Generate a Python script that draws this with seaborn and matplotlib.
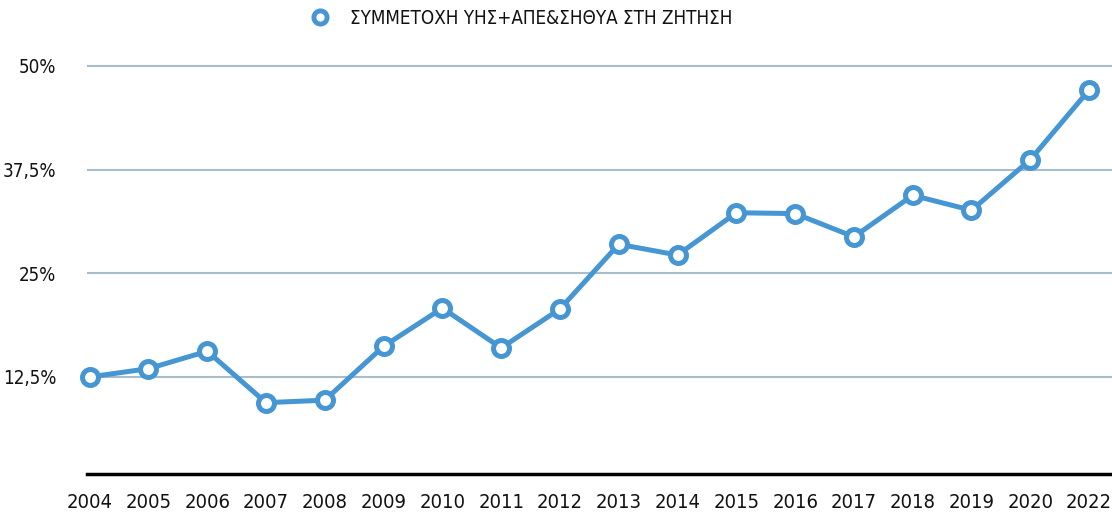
import matplotlib
matplotlib.use("Agg")
import matplotlib.pyplot as plt
from matplotlib.lines import Line2D
import seaborn as sns
import pandas as pd

years = ["2004", "2005", "2006", "2007", "2008", "2009", "2010", "2011", "2012",
         "2013", "2014", "2015", "2016", "2017", "2018", "2019", "2020", "2022"]
share = [12.5, 13.5, 15.6, 9.4, 9.7, 16.2, 20.8, 16.0, 20.7,
         28.5, 27.2, 32.3, 32.2, 29.4, 34.4, 32.6, 38.7, 47.1]
series_name = "ΣΥΜΜΕΤΟΧΗ ΥΗΣ+ΑΠΕ&ΣΗΘΥΑ ΣΤΗ ΖΗΤΗΣΗ"
y_ticks = [12.5, 25, 37.5, 50]
y_tick_labels = ["12,5%", "25%", "37,5%", "50%"]

sns.set_theme(style="white")
plt.rcParams["font.family"] = ["DejaVu Sans"]
plt.rcParams["font.stretch"] = "condensed"

BLUE = "#4596d3"
GRID = "#a9bccb"

df = pd.DataFrame({"year": years, "share": share, "pos": range(len(years))})

fig = plt.figure(figsize=(11.12, 5.17), dpi=100)
ax = fig.add_axes([0.078, 0.0832, 0.922, 0.8213])

sns.lineplot(data=df, x="pos", y="share", ax=ax, color=BLUE, linewidth=3.6,
             marker="o", markersize=11.5, markerfacecolor="white",
             markeredgecolor=BLUE, markeredgewidth=3.6, sort=False, zorder=3,
             clip_on=False)

ax.set_ylim(0.8, 52)
ax.set_xlim(-0.05, len(years) - 1 + 0.39)
ax.set_yticks(y_ticks)
ax.set_yticklabels(y_tick_labels)
ax.set_xticks(range(len(years)))
ax.set_xticklabels(years)
ax.grid(axis="y", color=GRID, linewidth=1.5)
ax.grid(axis="x", visible=False)
for s in ["top", "right", "left"]:
    ax.spines[s].set_visible(False)
ax.spines["bottom"].set_color("black")
ax.spines["bottom"].set_linewidth(2.5)
ax.tick_params(axis="y", length=0, pad=22, labelsize=13.5, labelcolor="#111111")
ax.tick_params(axis="x", length=0, pad=14, labelsize=14.5, labelcolor="#111111")
ax.set_xlabel("")
ax.set_ylabel("")
if ax.get_legend():
    ax.get_legend().remove()

handle = Line2D([], [], linestyle="none", marker="o", markersize=9.5,
                markerfacecolor="white", markeredgecolor=BLUE, markeredgewidth=3.5)
fig.legend([handle], [series_name], loc="center", bbox_to_anchor=(0.465, 0.965),
           frameon=False, fontsize=13.5, handletextpad=0.6, labelcolor="#111111")

fig.savefig("out.png", dpi=100)
